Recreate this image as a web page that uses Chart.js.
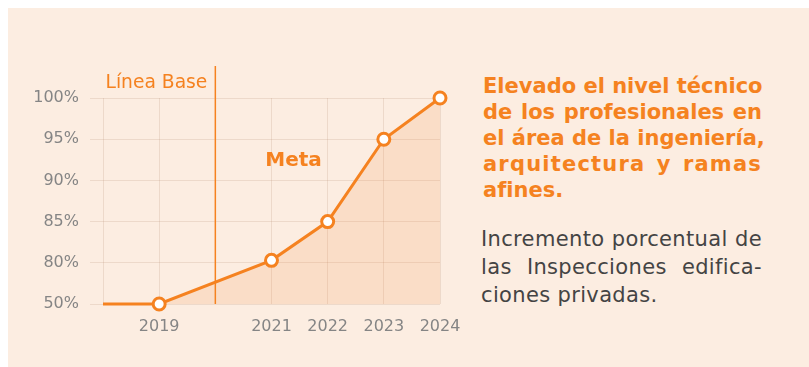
<!DOCTYPE html>
<html lang="es">
<head>
<meta charset="utf-8">
<title>Inspecciones edificaciones privadas</title>
<script src="https://cdn.jsdelivr.net/npm/chart.js@4.4.1/dist/chart.umd.min.js"></script>
<style>
  html, body { margin: 0; padding: 0; background: #ffffff; }
  body { width: 809px; height: 367px; position: relative; overflow: hidden; font-family: "DejaVu Sans", Verdana, sans-serif; }
  .panel { position: absolute; left: 8px; top: 8px; right: 0; bottom: 0; background: #fcede1; }
  #wrap { position: absolute; left: 0; top: 0; width: 470px; height: 367px; }
  .title { position: absolute; left: 483px; top: 73px; width: 279px; color: #f58220; font-weight: bold; font-size: 21px; line-height: 26px; letter-spacing: 0px; }
  .desc { position: absolute; left: 481px; top: 224.5px; width: 281px; color: #444444; font-size: 21px; line-height: 28px; letter-spacing: 0.35px; }
  .j { text-align: justify; text-align-last: justify; white-space: nowrap; }
  .l { text-align: left; white-space: nowrap; }
</style>
</head>
<body>
<div class="panel"></div>
<div id="wrap"><canvas id="chart" width="470" height="367"></canvas></div>
<div class="title">
  <div class="j">Elevado el nivel técnico</div>
  <div class="j">de los profesionales en</div>
  <div class="j">el área de la ingeniería,</div>
  <div class="j" style="letter-spacing:1.2px">arquitectura y ramas</div>
  <div class="l">afines.</div>
</div>
<div class="desc">
  <div class="j">Incremento porcentual de</div>
  <div class="j">las Inspecciones edifica-</div>
  <div class="l">ciones privadas.</div>
</div>
<script>
// Years on the horizontal axis and the percentage reached in each one
const years = [2018, 2019, 2021, 2022, 2023, 2024];
const percentages = [50, 50, 80.3, 85, 95, 100];
// Years that carry a label under the axis
const yearLabels = [2019, 2021, 2022, 2023, 2024];
// Percent values shown on the (broken) vertical axis, evenly spaced
const percentTicks = [50, 80, 85, 90, 95, 100];
const percentTickLabels = ['50%', '80%', '85%', '90%', '95%', '100%'];
// Baseline year separating the reference from the targets
const baseYear = 2020;
const baseLabel = 'Línea Base';
const goalLabel = 'Meta';

const ORANGE = '#f58220';
const GRID = 'rgba(170,130,100,0.18)';
const TICK_GRAY = '#858585';

// Convert a percentage to its slot on the evenly spaced broken axis
function percentToSlot(p) {
  for (let i = 0; i < percentTicks.length - 1; i++) {
    const a = percentTicks[i], b = percentTicks[i + 1];
    if (p <= b) return i + (p - a) / (b - a);
  }
  return percentTicks.length - 1;
}

const points = years.map((y, i) => ({ x: y, y: percentToSlot(percentages[i]) }));

const annotations = {
  id: 'annotations',
  afterDatasetsDraw(chart) {
    const { ctx, chartArea, scales } = chart;
    const x = scales.x.getPixelForValue(baseYear);
    ctx.save();
    ctx.strokeStyle = ORANGE;
    ctx.lineWidth = 1.5;
    ctx.beginPath();
    ctx.moveTo(x, 66);
    ctx.lineTo(x, chartArea.bottom);
    ctx.stroke();

    ctx.fillStyle = ORANGE;
    ctx.font = '18.7px "DejaVu Sans", Verdana, sans-serif';
    ctx.textAlign = 'right';
    ctx.textBaseline = 'alphabetic';
    ctx.fillText(baseLabel, x - 8, 87.5);

    ctx.font = 'bold 20px "DejaVu Sans", Verdana, sans-serif';
    ctx.textAlign = 'center';
    ctx.fillText(goalLabel, (scales.x.getPixelForValue(2021) + scales.x.getPixelForValue(2022)) / 2 - 6, 166);
    ctx.restore();
  }
};

new Chart(document.getElementById('chart'), {
  type: 'line',
  data: {
    datasets: [{
      data: points,
      borderColor: ORANGE,
      borderWidth: 3,
      backgroundColor: 'rgba(240,130,40,0.14)',
      fill: 'start',
      tension: 0,
      clip: false,
      pointRadius: ctx => ctx.dataIndex === 0 ? 0 : 6,
      pointBackgroundColor: '#ffffff',
      pointBorderColor: ORANGE,
      pointBorderWidth: 3
    }]
  },
  options: {
    responsive: false,
    animation: false,
    events: [],
    layout: { padding: { top: 98, left: 0, right: 30, bottom: 0 } },
    plugins: { legend: { display: false }, tooltip: { enabled: false } },
    scales: {
      x: {
        type: 'linear',
        min: years[0],
        max: years[years.length - 1],
        afterBuildTicks: s => {
          const t = [];
          for (let y = years[0]; y <= years[years.length - 1]; y++) t.push({ value: y });
          s.ticks = t;
        },
        afterFit: s => { s.height = 63; s.paddingLeft = 0; s.paddingRight = 0; },
        grid: { color: GRID, lineWidth: 1, drawTicks: false },
        border: { display: false },
        ticks: {
          padding: 13,
          color: TICK_GRAY,
          font: { family: '"DejaVu Sans", Verdana, sans-serif', size: 16 },
          maxRotation: 0,
          autoSkip: false,
          callback: v => yearLabels.includes(v) ? String(v) : ''
        }
      },
      y: {
        type: 'linear',
        min: 0,
        max: percentTicks.length - 1,
        afterBuildTicks: s => { s.ticks = percentTicks.map((_, i) => ({ value: i })); },
        afterFit: s => { s.width = 103; s.paddingTop = 0; s.paddingBottom = 0; },
        grid: { color: GRID, lineWidth: 1, tickLength: 13 },
        border: { display: false },
        ticks: {
          padding: 11,
          color: TICK_GRAY,
          font: { family: '"DejaVu Sans", Verdana, sans-serif', size: 16 },
          autoSkip: false,
          callback: (v, i) => percentTickLabels[i]
        }
      }
    }
  },
  plugins: [annotations]
});
</script>
</body>
</html>
